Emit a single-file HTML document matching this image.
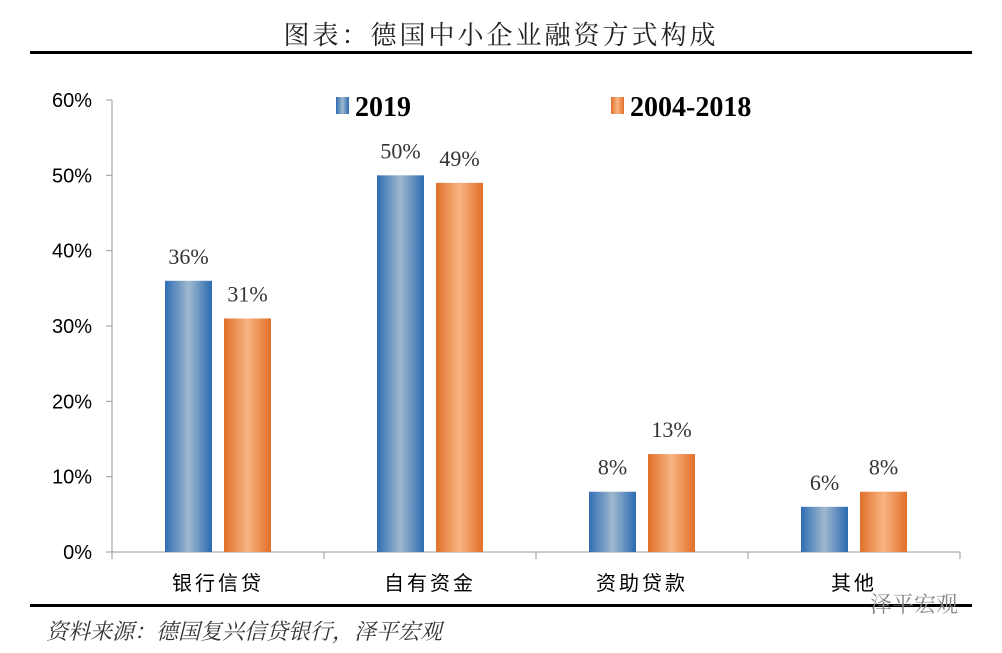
<!DOCTYPE html>
<html><head><meta charset="utf-8">
<style>
body{margin:0;background:#fff;width:1002px;height:648px;overflow:hidden}
svg text{font-family:"Liberation Serif","Noto Serif CJK SC",serif}
</style></head><body>
<svg width="1002" height="648">
<defs>
<linearGradient id="gb" x1="0" x2="1" y1="0" y2="0"><stop offset="0" stop-color="#2f6db5"/><stop offset="0.5" stop-color="#9fb9cd"/><stop offset="1" stop-color="#2c6ab3"/></linearGradient>
<linearGradient id="go" x1="0" x2="1" y1="0" y2="0"><stop offset="0" stop-color="#e0702a"/><stop offset="0.5" stop-color="#f8b483"/><stop offset="1" stop-color="#e26f28"/></linearGradient>
</defs>
<text x="501" y="44" text-anchor="middle" font-size="26" fill="#222" letter-spacing="3">图表：德国中小企业融资方式构成</text>
<rect x="30" y="51" width="942" height="3" fill="#000"/>
<g id="axes"></g>
<g id="bars"></g>
<g>
<rect x="336" y="97" width="13" height="17" fill="url(#gb)"/>
<text x="355" y="116" font-size="28" font-weight="bold">2019</text>
<rect x="611" y="97" width="13" height="17" fill="url(#go)"/>
<text x="630" y="116" font-size="28" font-weight="bold">2004-2018</text>
</g>
<rect x="30" y="604" width="942" height="3" fill="#000"/>
<text x="46" y="639" font-size="22" font-style="italic" fill="#333">资料来源：德国复兴信贷银行，泽平宏观</text>
<text x="870" y="612" font-size="22" fill="#888">泽平宏观</text>
</svg>
<script>
const categories=["银行信贷","自有资金","资助贷款","其他"];
const s2019=[36,50,8,6];
const s0418=[31,49,13,8];
const yTicks=[0,10,20,30,40,50,60];
const NS="http://www.w3.org/2000/svg";
const x0=112,gw=212,y0=552,yTop=100,ymax=60;
const y=v=>y0-(v/ymax)*(y0-yTop);
function el(t,a,p,txt){const e=document.createElementNS(NS,t);for(const k in a)e.setAttribute(k,a[k]);if(txt!=null)e.textContent=txt;p.appendChild(e);return e;}
const ax=document.getElementById('axes'),bg=document.getElementById('bars');
let l=el('line',{x1:x0,x2:x0,y1:yTop,y2:y0,stroke:'#999'},ax);


l=el('line',{x1:x0,x2:x0+gw*categories.length,y1:y0,y2:y0,stroke:'#999'},ax);


yTicks.forEach(v=>{
 let t=el('line',{x1:x0-6,x2:x0,y1:y(v),y2:y(v),stroke:'#999'},ax);
 
 
 let tx=el('text',{x:x0-20,y:y(v)+7,'text-anchor':'end','font-size':'20',style:'font-family:"Liberation Sans",sans-serif'},ax,v+'%');
 
 
});
for(let i=0;i<=categories.length;i++){
 let t=el('line',{x1:x0+gw*i,x2:x0+gw*i,y1:y0,y2:y0+7,stroke:'#999'},ax);
 
 
}
categories.forEach((c,i)=>{
 const cx=x0+gw*i+gw/2;
 let tx=el('text',{x:cx,y:590,'text-anchor':'middle','font-size':'20',style:'font-family:"Noto Sans CJK SC",sans-serif','letter-spacing':'3'},ax,c);
 
 
 [[s2019[i],'url(#gb)',cx-53,'bar-2019'],[s0418[i],'url(#go)',cx+6,'bar-2004-2018']].forEach(([v,f,bx,n])=>{
  let r=el('rect',{x:bx,y:y(v),width:47,height:y0-y(v),fill:f},bg);
  
  
  let lb=el('text',{x:bx+23.5,y:y(v)-17,'text-anchor':'middle','font-size':'22',fill:'#333'},bg,v+'%');
  
  
 });
});
</script>
</body></html>
